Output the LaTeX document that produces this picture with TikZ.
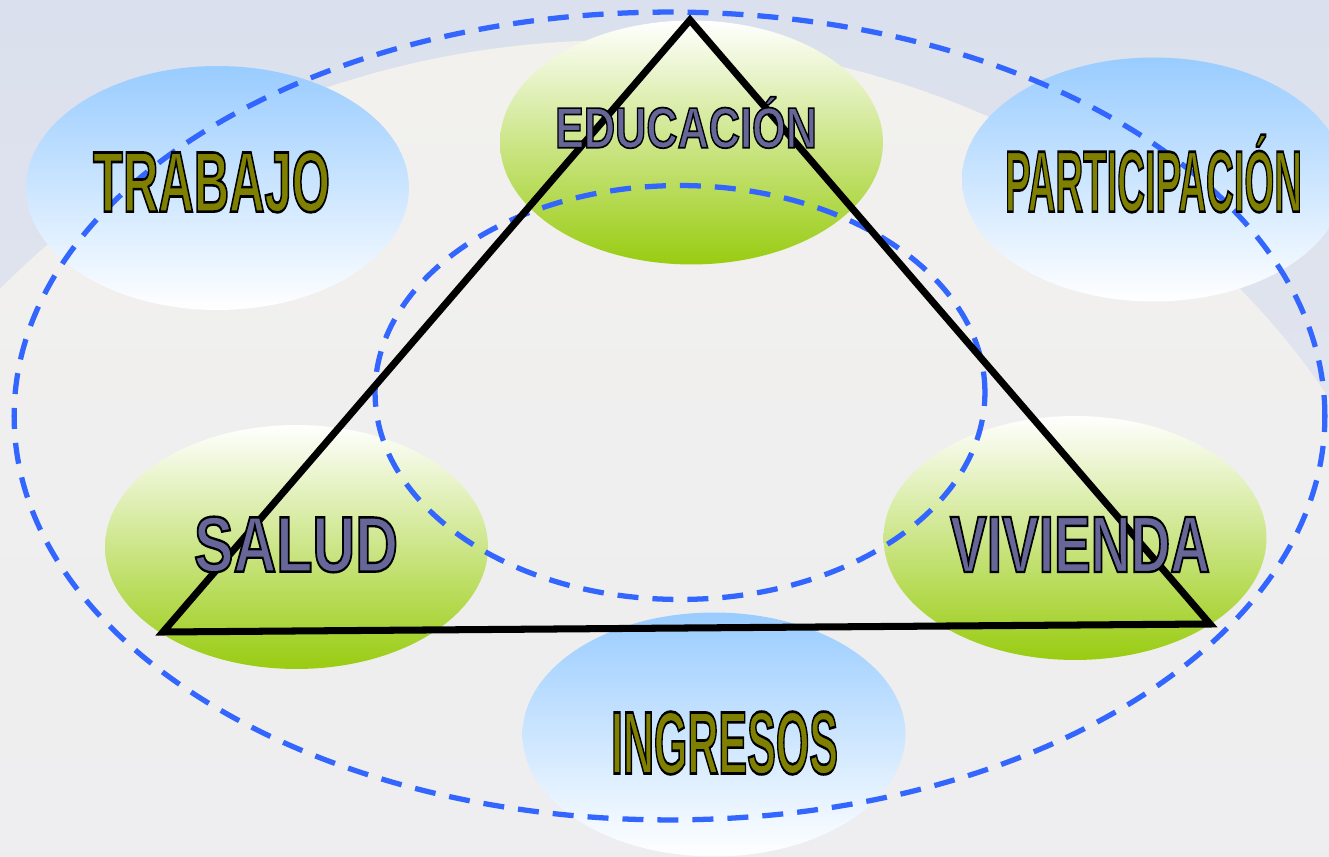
\documentclass[tikz,border=0pt]{standalone}
\usepackage{fontspec}
\setmainfont{Liberation Sans}
\newfontfamily\outlinefont[UprightFont={* Bold},FakeBold=3]{Liberation Sans}
\usetikzlibrary{shapes.geometric}
\definecolor{dashblue}{HTML}{3366FF}
\definecolor{skyblue}{HTML}{99CCFF}
\definecolor{leafgreen}{HTML}{99CC11}
\definecolor{palegreen}{HTML}{DDEDC6}
\definecolor{bgtop}{HTML}{DAE0ED}
\definecolor{bgbot}{HTML}{E9E9F0}
\definecolor{warmtop}{HTML}{F2F1EE}
\definecolor{warmbot}{HTML}{EAEAF0}
% fill colour #1 (rgb triple), black outline
\newcommand\lbltext[4]{\resizebox{#2}{#3}{\special{pdf:bcolor [#1] [0 0 0]}#4\special{pdf:ecolor}}}
\newcommand\olivergb{0.502 0.502 0}
\newcommand\slatergb{0.4 0.4 0.6}
\tikzset{
  blob/.style={ellipse, inner sep=0pt, outer sep=0pt, minimum width=7.66cm, minimum height=4.88cm},
  blueblob/.style={blob, top color=skyblue, bottom color=white},
  greenblob/.style={blob, top color=white, middle color=palegreen, bottom color=leafgreen},
  ring/.style={ellipse, inner sep=0pt, outer sep=0pt, draw=dashblue, line width=3pt, dash pattern=on 0.42cm off 0.28cm},
  tri/.style={line width=4pt, draw=black},
  lbl/.style={inner sep=0pt, font=\fontsize{48}{50}\selectfont\outlinefont}
}
\begin{document}
\begin{tikzpicture}[x=0.02cm, y=-0.02cm]
\useasboundingbox (0,0) rectangle (1329,857);
\begin{scope}
\clip (0,0) rectangle (1329,857);
\shade[top color=bgtop, bottom color=bgbot] (0,0) rectangle (1329,857);
\shade[top color=warmtop, bottom color=warmbot] (620,760) ellipse [x radius=16.4cm, y radius=14.4cm];
\end{scope}

% coloured ellipses
\node[blueblob]  (trabajo)  at (217.5,188) {};
\node[greenblob] (educacion) at (691.5,142.5) {};
\node[blueblob]  (participacion) at (1153.5,179.5) {};
\node[greenblob] (salud)    at (296.5,547) {};
\node[blueblob]  (ingresos) at (714,734.5) {};
\node[greenblob] (vivienda) at (1075,538) {};

% dashed rings
\node[ring, minimum width=26.22cm, minimum height=16.16cm] (outerring) at (669.5,416) {};
\node[ring, minimum width=12.2cm, minimum height=8.28cm] (innerring) at (680,392.5) {};

% triangle
\coordinate (apex) at (690,20);
\coordinate (lcorner) at (163,632);
\coordinate (rcorner) at (1210,624);
\draw[tri] (apex) -- (lcorner) -- (rcorner) -- cycle;

% labels
\node[lbl] (ttrabajo) at (211.5,182) {\lbltext{\olivergb}{4.74cm}{1.2cm}{TRABAJO}};
\node[lbl] (teducacion) at (686,122.5) {\lbltext{\slatergb}{5.24cm}{1.02cm}{EDUCACIÓN}};
\node[lbl] (tparticipacion) at (1153.5,173.5) {\lbltext{\olivergb}{5.94cm}{1.54cm}{PARTICIPACIÓN}};
\node[lbl] (tsalud) at (296,544.5) {\lbltext{\slatergb}{4.08cm}{1.1cm}{SALUD}};
\node[lbl] (tingresos) at (724.5,743) {\lbltext{\olivergb}{4.54cm}{1.24cm}{INGRESOS}};
\node[lbl] (tvivienda) at (1080,544.5) {\lbltext{\slatergb}{5.2cm}{1.1cm}{VIVIENDA}};
\end{tikzpicture}
\end{document}
